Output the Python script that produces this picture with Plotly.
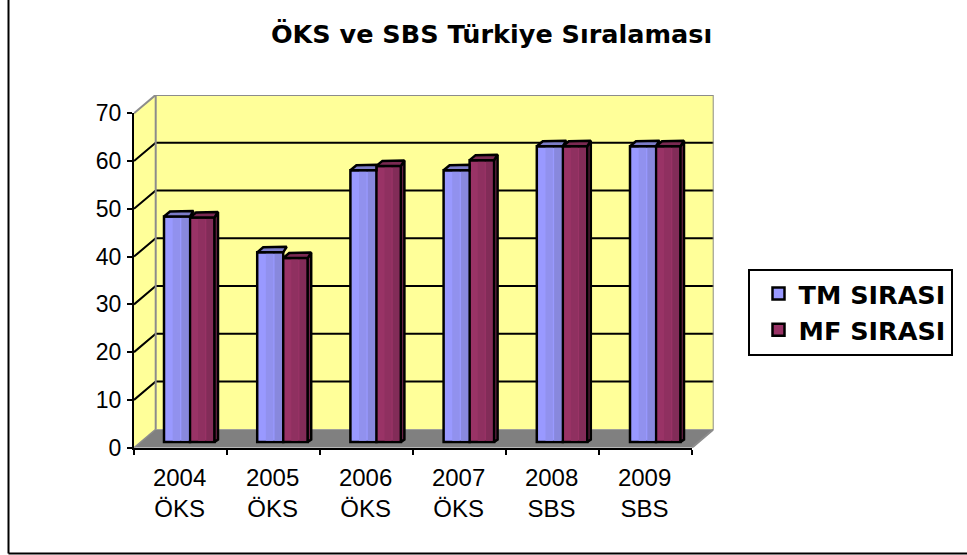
import plotly.graph_objects as go

# ---- data ----
years = ["2004", "2005", "2006", "2007", "2008", "2009"]
exams = ["ÖKS", "ÖKS", "ÖKS", "ÖKS", "SBS", "SBS"]
tm_sirasi = [47.2, 39.7, 56.9, 56.9, 61.9, 61.9]
mf_sirasi = [47.0, 38.5, 57.8, 59.0, 61.9, 61.9]
y_ticks = [0, 10, 20, 30, 40, 50, 60, 70]

W, H = 967, 555
# geometry of the pseudo-3D box, pixels
AX_L, AX_R, AX_T, AX_B = 134.0, 692.0, 113.3, 447.7
DX_PX, DY_PX = 21.7, 18.4
PX_X = (AX_R - AX_L) / 6
PX_Y = (AX_B - AX_T) / 70
DX, DY = DX_PX / PX_X, DY_PX / PX_Y
XMAX, YMAX = 6.0, 70.0
OUTLINE = 2.5


def px(v):
    return v / PX_X


def py(v):
    return v / PX_Y


traces = []


def poly(xs, ys, fill, line=None, width=2, axes=("x", "y")):
    traces.append(go.Scatter(
        x=xs, y=ys, mode="lines" if line else "none",
        fill="toself" if fill else None, fillcolor=fill,
        line=dict(color=line, width=width) if line else None,
        xaxis=axes[0], yaxis=axes[1], showlegend=False, hoverinfo="skip"))


# walls (background subplot)
poly([DX, XMAX + DX, XMAX + DX, DX, DX], [DY, DY, 70 + DY, 70 + DY, DY], "#FFFF99")
poly([0, DX, DX, 0, 0], [0, DY, 70 + DY, 70, 0], "#FFFF99")
poly([0, DX, XMAX + DX, XMAX, 0], [0, DY, DY, 0, 0], "#808080")
for t in y_ticks[1:-1]:
    poly([0, DX, XMAX + DX], [t, t + DY, t + DY], None, "#000000", 2)
poly([DX, DX, XMAX + DX, XMAX + DX, XMAX], [DY, 70 + DY, 70 + DY, DY, 0], None, "#8C8C8C", 2)
poly([0, DX], [70, 70 + DY], None, "#8C8C8C", 2)
poly([0, DX], [0, DY], None, "#8C8C8C", 1.5)

# bars
LIFT = py(5.7)
FRONT = {"tm": px(26.0), "mf": px(24.5)}
START = {"tm": px(30.0), "mf": px(56.0)}
SPACE = 93.2 / PX_X
xa = ("x2", "y2")
series = [
    ("TM SIRASI", "tm", tm_sirasi, "#9999FF", ["#9191EE", "#8888DD"], "#7A7AC4", "#7C7CC8"),
    ("MF SIRASI", "mf", mf_sirasi, "#993366", ["#8F3060", "#822C58"], "#782850", "#7A2952"),
]
for name, key, vals, col, _, _, _ in series:
    traces.append(go.Bar(
        x=[i * SPACE + START[key] for i in range(6)], y=vals, base=LIFT,
        width=FRONT[key], offset=0, name=name, legendgroup=name,
        marker=dict(color=col, line=dict(color="#000000", width=OUTLINE)),
        xaxis="x2", yaxis="y2", showlegend=True, hoverinfo="skip"))
for name, key, vals, col, shades, _, _ in series:
    for k, sh in enumerate(shades):
        traces.append(go.Bar(
            x=[i * SPACE + START[key] + FRONT[key] * (k + 1) / 3 for i in range(6)],
            y=[v - py(2.5) for v in vals], base=LIFT + py(1.25), width=FRONT[key] / 3 - px(1.25),
            offset=0, marker=dict(color=sh, line=dict(width=0)),
            xaxis="x2", yaxis="y2", showlegend=False, hoverinfo="skip"))
for name, key, vals, col, _, side, top in series:
    for i, v in enumerate(vals):
        x0 = i * SPACE + START[key]
        f = FRONT[key]
        yf = LIFT + v
        other = mf_sirasi[i]
        ext = px(3.5) if (key == "mf" or v >= other) else 0
        if key == "mf":
            poly([x0 + f, x0 + f + ext, x0 + f + ext, x0 + f, x0 + f],
                 [yf, yf + py(5.5), LIFT + py(2.5), LIFT, yf], side, "#000000", OUTLINE, xa)
        poly([x0, x0 + px(6), x0 + f + ext, x0 + f, x0],
             [yf, yf + py(5), yf + py(5.5), yf, yf], top, "#000000", OUTLINE, xa)

# axis carriers for the two rows of category labels
for ax in ("x3", "x4"):
    traces.append(go.Scatter(x=[0.5], y=[None], xaxis=ax, yaxis="y2", showlegend=False, hoverinfo="skip"))

fig = go.Figure(traces)
x_font = dict(family="Liberation Sans", size=24, color="#000000")
y_font = dict(family="Liberation Sans", size=23, color="#000000")
label_vals = [i + 0.49 for i in range(6)]
hidden = dict(visible=False, fixedrange=True)
fig.update_layout(
    width=W, height=H, margin=dict(l=0, r=0, t=0, b=0, autoexpand=False), autosize=False,
    paper_bgcolor="#FFFFFF", plot_bgcolor="rgba(0,0,0,0)", barmode="overlay",
    title=dict(text="<b>ÖKS ve SBS Türkiye Sıralaması</b>", x=491.5 / W, xanchor="center",
               y=1 - 34 / H, yanchor="middle",
               font=dict(family="DejaVu Sans", size=25.5, color="#000000")),
    xaxis=dict(domain=[AX_L / W, (AX_R + DX_PX) / W], range=[0, XMAX + DX], anchor="y", **hidden),
    yaxis=dict(domain=[1 - AX_B / H, 1 - (AX_T - DY_PX) / H], range=[0, 70 + DY], anchor="x", **hidden),
    xaxis2=dict(domain=[AX_L / W, AX_R / W], range=[0, XMAX], anchor="y2", showgrid=False, zeroline=False,
                tickmode="array", tickvals=list(range(7)), ticktext=[""] * 7, ticks="outside", ticklen=5,
                tickwidth=2, tickcolor="#000000", showline=True, linecolor="#000000", linewidth=2),
    xaxis3=dict(overlaying="x2", range=[0, XMAX], anchor="y2", showgrid=False, zeroline=False, ticks="",
                tickmode="array", tickvals=label_vals, ticktext=years, tickfont=x_font,
                ticklabelstandoff=13, showline=False),
    xaxis4=dict(overlaying="x2", range=[0, XMAX], anchor="y2", showgrid=False, zeroline=False, ticks="",
                tickmode="array", tickvals=label_vals, ticktext=exams, tickfont=x_font,
                ticklabelstandoff=44, showline=False),
    yaxis2=dict(domain=[1 - AX_B / H, 1 - AX_T / H], range=[0, 70], anchor="x2", showgrid=False, zeroline=False,
                tickmode="array", tickvals=y_ticks, ticks="outside", ticklen=5, tickwidth=2,
                tickcolor="#000000", showline=True, linecolor="#000000", linewidth=2,
                tickfont=y_font, ticklabelstandoff=1),
    legend=dict(x=747.5 / W, xanchor="left", y=1 - 268.5 / H, yanchor="top", bgcolor="#FFFFFF",
                bordercolor="#000000", borderwidth=2, tracegroupgap=16, traceorder="normal",
                entrywidth=215, entrywidthmode="pixels", itemwidth=30, indentation=9,
                font=dict(family="DejaVu Sans", size=25.5, color="#000000", weight="bold")),
    shapes=[
        dict(type="line", xref="paper", yref="paper", x0=8.5 / W, x1=8.5 / W, y0=1 - 553.5 / H, y1=1,
             line=dict(color="#000000", width=2)),
        dict(type="line", xref="paper", yref="paper", x0=8.5 / W, x1=1, y0=1 - 553.5 / H, y1=1 - 553.5 / H,
             line=dict(color="#000000", width=2)),
    ],
)
fig.write_html("out.html", post_script="document.body.style.margin='0';",
               config={"displayModeBar": False})
